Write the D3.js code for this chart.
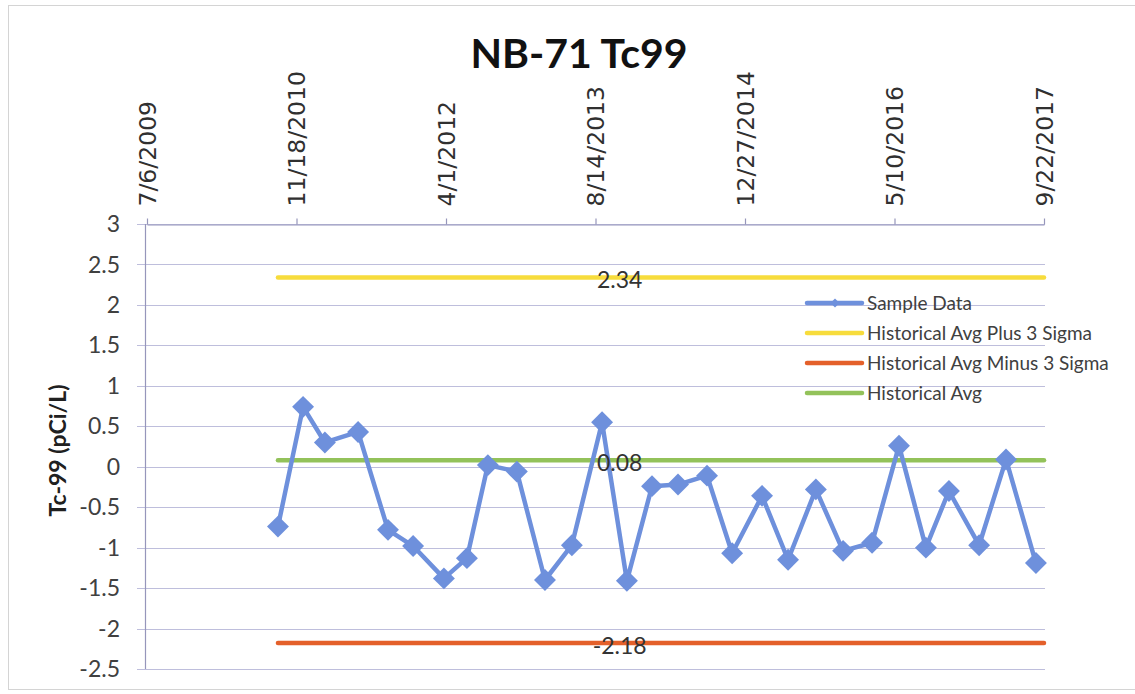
<!DOCTYPE html>
<html>
<head>
<meta charset="utf-8">
<script src="https://cdn.jsdelivr.net/npm/d3@7"></script>
<style>
  html, body { margin: 0; padding: 0; background: #ffffff; }
  svg { display: block; }
</style>
</head>
<body>
<svg id="chart" width="1135" height="694"></svg>
<script>
// ---------------- data ----------------
const chartTitle = "NB-71 Tc99";
const yAxisTitle = "Tc-99 (pCi/L)";
const sampleDates = [
  "2010-09-17","2010-12-10","2011-02-21","2011-06-12","2011-09-20","2011-12-13",
  "2012-03-25","2012-06-10","2012-08-19","2012-11-24","2013-02-26","2013-05-27",
  "2013-09-05","2013-11-27","2014-02-19","2014-05-17","2014-08-22","2014-11-14",
  "2015-02-22","2015-05-20","2015-08-21","2015-11-20","2016-02-25","2016-05-25",
  "2016-08-23","2016-11-08","2017-02-17","2017-05-18","2017-08-26"
];
const sampleValues = [
  -0.74, 0.74, 0.30, 0.43, -0.78, -0.98,
  -1.38, -1.13, 0.02, -0.06, -1.40, -0.97,
  0.55, -1.41, -0.24, -0.22, -0.11, -1.07,
  -0.36, -1.15, -0.28, -1.04, -0.94, 0.26,
  -1.00, -0.30, -0.97, 0.09, -1.19
];
const plus3Sigma = 2.34;
const minus3Sigma = -2.18;
const historicalAvg = 0.08;
const xTickLabels = ["7/6/2009","11/18/2010","4/1/2012","8/14/2013","12/27/2014","5/10/2016","9/22/2017"];
const yTickValues = [-2.5,-2,-1.5,-1,-0.5,0,0.5,1,1.5,2,2.5,3];
const refLabelDate = "2013-11-03";
const legendNames = ["Sample Data","Historical Avg Plus 3 Sigma","Historical Avg Minus 3 Sigma","Historical Avg"];

// ---------------- setup ----------------
const parseMDY = s => { const [m,d,y] = s.split("/").map(Number); return new Date(Date.UTC(y, m-1, d)); };
const parseISO = s => { const [y,m,d] = s.split("-").map(Number); return new Date(Date.UTC(y, m-1, d)); };
const xTicks = xTickLabels.map(parseMDY);
const samples = sampleDates.map((d,i) => ({date: parseISO(d), value: sampleValues[i]}));

const colors = {
  sample: "#6e90dc",
  plus: "#f7dc3c",
  minus: "#e4602a",
  avg: "#93c25a",
  grid: "#bebedc",
  axis: "#9696bb",
  text: "#404040"
};

const svg = d3.select("#chart");
const plotLeft = 147, plotRight = 1044, plotTop = 224, plotBottom = 669;

const x = d3.scaleUtc().domain([xTicks[0], xTicks[xTicks.length-1]]).range([plotLeft, plotRight]);
const y = d3.scaleLinear().domain([-2.5, 3]).range([plotBottom, plotTop]);

// outer border
svg.append("rect").attr("x", 8.5).attr("y", 5.5).attr("width", 1140).attr("height", 684)
  .attr("fill", "#fff").attr("stroke", "#d4d4d4").attr("stroke-width", 1);

// title
svg.append("text").attr("x", 579).attr("y", 68).attr("text-anchor", "middle")
  .attr("font-family", "Lato, 'Open Sans', sans-serif").attr("font-weight", 700)
  .attr("font-size", 41).attr("fill", "#111").text(chartTitle);

// horizontal gridlines
svg.append("g").selectAll("line").data(yTickValues).join("line")
  .attr("x1", plotLeft - 10).attr("x2", plotRight + 1)
  .attr("y1", d => Math.round(y(d)) + 0.5).attr("y2", d => Math.round(y(d)) + 0.5)
  .attr("stroke", colors.grid).attr("stroke-width", 1.2);

// y axis line
svg.append("line").attr("x1", plotLeft - 1.5).attr("x2", plotLeft - 1.5)
  .attr("y1", y(3)).attr("y2", y(-2.5)).attr("stroke", colors.axis).attr("stroke-width", 1.2);

// y tick labels
svg.append("g").selectAll("text").data(yTickValues).join("text")
  .attr("x", 120).attr("y", d => y(d)).attr("dy", "0.35em").attr("text-anchor", "end")
  .attr("font-family", "Lato, sans-serif").attr("font-size", 23).attr("fill", colors.text)
  .text(d => String(d));

// y axis title
svg.append("text").attr("transform", `translate(66,${(plotTop+plotBottom)/2 + 4}) rotate(-90)`)
  .attr("text-anchor", "middle").attr("font-family", "Lato, sans-serif").attr("font-weight", 700)
  .attr("font-size", 23).attr("fill", "#202020").text(yAxisTitle);

// top x axis
const xAxis = d3.axisTop(x).tickValues(xTicks).tickSize(6).tickSizeOuter(0)
  .tickFormat((d,i) => xTickLabels[i]);
const gx = svg.append("g").attr("transform", `translate(0,${Math.round(y(3)) + 0.5})`).call(xAxis);
gx.select(".domain").attr("stroke", colors.axis).attr("stroke-width", 1.2);
gx.selectAll(".tick line").attr("stroke", colors.axis).attr("stroke-width", 1.2);
gx.selectAll(".tick text")
  .attr("font-family", "'DejaVu Sans', Verdana, sans-serif").attr("font-size", 23.5)
  .attr("fill", "#303030")
  .attr("transform", "rotate(-90)")
  .attr("text-anchor", "start")
  .attr("x", 18).attr("y", 0).attr("dy", "0.36em");

// reference lines
const refStart = samples[0].date, refEnd = xTicks[xTicks.length-1];
const refs = [
  {v: plus3Sigma, c: colors.plus},
  {v: minus3Sigma, c: colors.minus},
  {v: historicalAvg, c: colors.avg}
];
svg.append("g").selectAll("line").data(refs).join("line")
  .attr("x1", x(refStart)).attr("x2", x(refEnd))
  .attr("y1", d => y(d.v)).attr("y2", d => y(d.v))
  .attr("stroke", d => d.c).attr("stroke-width", 4.5).attr("stroke-linecap", "round");

// sample series
const line = d3.line().x(d => x(d.date)).y(d => y(d.value));
svg.append("path").datum(samples).attr("d", line)
  .attr("fill", "none").attr("stroke", colors.sample).attr("stroke-width", 4.5)
  .attr("stroke-linejoin", "round");
const diamond = d3.symbol().type(d3.symbolSquare).size(240);
svg.append("g").selectAll("path").data(samples).join("path")
  .attr("d", diamond)
  .attr("transform", d => `translate(${x(d.date)},${y(d.value)}) rotate(45)`)
  .attr("fill", colors.sample);

// reference value labels
svg.append("g").selectAll("text").data(refs).join("text")
  .attr("x", x(parseISO(refLabelDate))).attr("y", d => y(d.v) + 3)
  .attr("dy", "0.35em").attr("text-anchor", "middle")
  .attr("font-family", "Lato, sans-serif").attr("font-size", 23).attr("fill", "#333")
  .text(d => d.v.toFixed(2));

// legend
const legendColors = [colors.sample, colors.plus, colors.minus, colors.avg];
const lg = svg.append("g").attr("transform", "translate(807,303)");
const items = lg.selectAll("g").data(legendNames).join("g")
  .attr("transform", (d,i) => `translate(0,${i*30})`);
items.append("line").attr("x1", 0).attr("x2", 55).attr("y1", 0).attr("y2", 0)
  .attr("stroke", (d,i) => legendColors[i]).attr("stroke-width", 4.5).attr("stroke-linecap", "round");
items.filter((d,i) => i === 0).append("path")
  .attr("d", d3.symbol().type(d3.symbolSquare).size(40))
  .attr("transform", "translate(28,0) rotate(45)").attr("fill", colors.sample);
items.append("text").attr("x", 60).attr("y", 0).attr("dy", "0.35em")
  .attr("font-family", "Lato, sans-serif").attr("font-size", 19).attr("fill", colors.text)
  .text(d => d);
</script>
</body>
</html>
